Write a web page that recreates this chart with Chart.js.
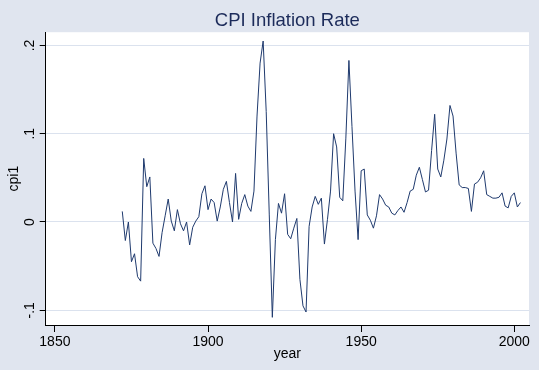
<!DOCTYPE html>
<html>
<head>
<meta charset="utf-8">
<title>CPI Inflation Rate</title>
<script src="https://cdn.jsdelivr.net/npm/chart.js@4"></script>
<style>
    html, body { margin: 0; padding: 0; background: #e0e5ef; }
    #wrap { width: 539px; height: 370px; }
</style>
</head>
<body>
<div id="wrap"><canvas id="cpiChart" width="539" height="370"></canvas></div>
<script>
const years = [
    1872, 1873, 1874, 1875, 1876, 1877, 1878, 1879,
    1880, 1881, 1882, 1883, 1884, 1885, 1886, 1887, 1888, 1889,
    1890, 1891, 1892, 1893, 1894, 1895, 1896, 1897, 1898, 1899,
    1900, 1901, 1902, 1903, 1904, 1905, 1906, 1907, 1908, 1909,
    1910, 1911, 1912, 1913, 1914, 1915, 1916, 1917, 1918, 1919,
    1920, 1921, 1922, 1923, 1924, 1925, 1926, 1927, 1928, 1929,
    1930, 1931, 1932, 1933, 1934, 1935, 1936, 1937, 1938, 1939,
    1940, 1941, 1942, 1943, 1944, 1945, 1946, 1947, 1948, 1949,
    1950, 1951, 1952, 1953, 1954, 1955, 1956, 1957, 1958, 1959,
    1960, 1961, 1962, 1963, 1964, 1965, 1966, 1967, 1968, 1969,
    1970, 1971, 1972, 1973, 1974, 1975, 1976, 1977, 1978, 1979,
    1980, 1981, 1982, 1983, 1984, 1985, 1986, 1987, 1988, 1989,
    1990, 1991, 1992, 1993, 1994, 1995, 1996, 1997, 1998, 1999,
    2000, 2001, 2002
];

const cpi1 = [
    0.012, -0.021, 0.000, -0.045, -0.036, -0.062, -0.067, 0.072,
    0.040, 0.051, -0.024, -0.030, -0.039, -0.012, 0.007, 0.026, 0.001, -0.010,
    0.014, -0.002, -0.010, 0.000, -0.026, -0.006, 0.001, 0.006, 0.032, 0.041,
    0.014, 0.026, 0.022, 0.001, 0.017, 0.037, 0.046, 0.022, 0.000, 0.055,
    0.003, 0.021, 0.031, 0.018, 0.012, 0.035, 0.120, 0.180, 0.205, 0.125,
    0.008, -0.108, -0.020, 0.021, 0.010, 0.032, -0.014, -0.019, -0.007, 0.004,
    -0.065, -0.095, -0.102, -0.005, 0.017, 0.029, 0.020, 0.027, -0.025, 0.003,
    0.035, 0.100, 0.085, 0.028, 0.024, 0.095, 0.183, 0.108, 0.035, -0.020,
    0.058, 0.060, 0.008, 0.002, -0.007, 0.007, 0.031, 0.026, 0.019, 0.017,
    0.010, 0.008, 0.013, 0.017, 0.011, 0.022, 0.035, 0.037, 0.053, 0.062,
    0.048, 0.034, 0.036, 0.081, 0.122, 0.060, 0.051, 0.070, 0.094, 0.132,
    0.120, 0.078, 0.042, 0.039, 0.039, 0.038, 0.012, 0.043, 0.045, 0.050,
    0.058, 0.031, 0.029, 0.027, 0.027, 0.028, 0.033, 0.018, 0.016, 0.029,
    0.033, 0.017, 0.022
];

const xTicks = [1850, 1900, 1950, 2000];
const xTickLabels = ['1850', '1900', '1950', '2000'];
const yTicks = [-0.1, 0, 0.1, 0.2];
const yTickLabels = ['-.1', '0', '.1', '.2'];

const axisFont = { family: "'Liberation Sans Narrow', 'Liberation Sans', Arial, sans-serif", size: 14 };

// white plot region on the bluish graph region
const plotBackground = {
    id: 'plotBackground',
    beforeDraw(chart) {
        const { ctx, chartArea } = chart;
        ctx.save();
        ctx.fillStyle = '#ffffff';
        ctx.fillRect(chartArea.left, chartArea.top, chartArea.right - chartArea.left, chartArea.bottom - chartArea.top);
        ctx.restore();
    }
};

const ctx = document.getElementById('cpiChart').getContext('2d');
new Chart(ctx, {
    type: 'line',
    data: {
        datasets: [{
            label: 'cpi1',
            data: years.map((yr, i) => ({ x: yr, y: cpi1[i] })),
            borderColor: '#1f3a6e',
            borderWidth: 1,
            pointRadius: 0,
            fill: false,
            tension: 0
        }]
    },
    options: {
        responsive: false,
        animation: false,
        devicePixelRatio: 1,
        layout: {
            padding: { left: 0, right: 10, top: 0, bottom: 0 }
        },
        plugins: {
            legend: { display: false },
            tooltip: { enabled: false },
            title: {
                display: true,
                text: 'CPI Inflation Rate',
                fullSize: false,
                color: '#1c2b5a',
                font: { family: "'Liberation Sans', Arial, sans-serif", size: 18.5, weight: 'normal', lineHeight: 1.2 },
                padding: { top: 10, bottom: 0 }
            }
        },
        scales: {
            x: {
                type: 'linear',
                min: 1847,
                max: 2004.8,
                afterBuildTicks: (scale) => {
                    scale.ticks = xTicks.map(v => ({ value: v }));
                },
                afterFit: (scale) => {
                    scale.height = 45;
                },
                grid: {
                    drawOnChartArea: false,
                    drawTicks: true,
                    tickLength: 7,
                    tickColor: '#000000'
                },
                border: { display: true, color: '#000000', width: 1 },
                ticks: {
                    color: '#000000',
                    padding: 2,
                    autoSkip: false,
                    maxRotation: 0,
                    font: axisFont,
                    callback: (value, index) => xTickLabels[index]
                },
                title: {
                    display: true,
                    text: 'year',
                    color: '#000000',
                    font: axisFont,
                    padding: { top: 0, bottom: 7 }
                }
            },
            y: {
                min: -0.1167,
                max: 0.215,
                afterBuildTicks: (scale) => {
                    scale.ticks = yTicks.map(v => ({ value: v }));
                },
                afterFit: (scale) => {
                    scale.width = 45.7;
                },
                grid: {
                    color: '#dbe2ee',
                    lineWidth: 1,
                    drawTicks: true,
                    tickLength: 6,
                    tickColor: '#000000'
                },
                border: { display: true, color: '#000000', width: 1 },
                ticks: {
                    color: '#000000',
                    padding: 1,
                    minRotation: 90,
                    maxRotation: 90,
                    crossAlign: 'center',
                    autoSkip: false,
                    font: axisFont,
                    callback: (value, index) => yTickLabels[index]
                },
                title: {
                    display: true,
                    text: 'cpi1',
                    color: '#000000',
                    font: axisFont,
                    padding: { top: 6, bottom: 0 }
                }
            }
        }
    },
    plugins: [plotBackground]
});
</script>
</body>
</html>
